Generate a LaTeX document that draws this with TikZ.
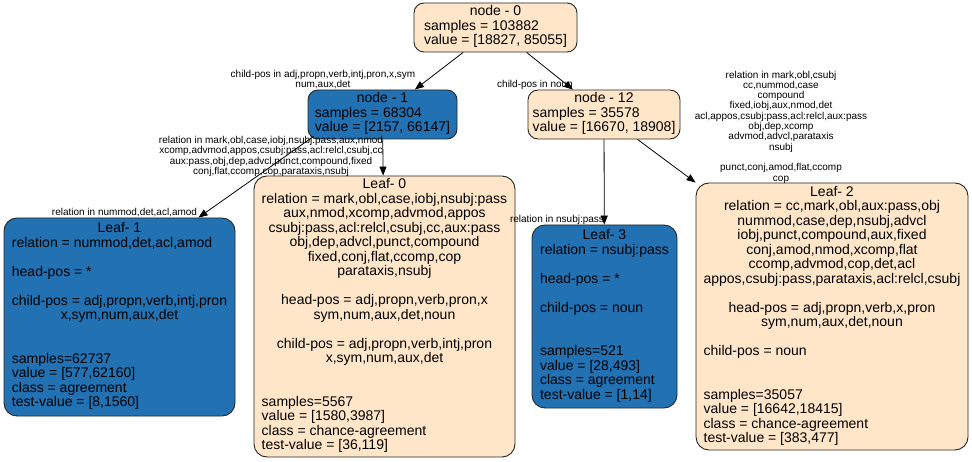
\documentclass[tikz,border=0pt]{standalone}
\usepackage{fontspec}
\setmainfont{Liberation Sans}
\usetikzlibrary{arrows.meta}
\definecolor{leafblue}{RGB}{34,113,179}
\definecolor{leafsand}{RGB}{255,230,201}
\newcommand{\lft}[1]{\multicolumn{1}{@{}l@{}}{#1}}

\begin{document}
\begin{tikzpicture}[
    x=1pt, y=-1pt,
    treebox/.style={draw=black!85, line width=0.9pt, rounded corners=10pt, inner sep=0pt, font=\fontsize{14}{14.5}\selectfont},
    sandbox/.style={treebox, fill=leafsand},
    bluebox/.style={treebox, fill=leafblue},
    cond/.style={inner sep=0pt, align=center, font=\fontsize{10}{10.3}\selectfont},
    flow/.style={-{Triangle[length=9pt, width=7pt]}, line width=0.8pt}
]
\useasboundingbox (0,0) rectangle (972,462);

% split nodes
\node[sandbox, minimum width=163, minimum height=49] (node0) at (495.5,27.5) {\begin{tabular}{@{}c@{}}node - 0\\ \lft{samples = 103882}\\ \lft{value = [18827, 85055]}\end{tabular}};
\node[bluebox, minimum width=149, minimum height=49] (node1) at (382.5,114.5) {\begin{tabular}{@{}c@{}}node - 1\\ \lft{samples = 68304}\\ \lft{value = [2157, 66147]}\end{tabular}};
\node[sandbox, minimum width=152, minimum height=49] (node12) at (604,114.5) {\begin{tabular}{@{}c@{}}node - 12\\ \lft{samples = 35578}\\ \lft{value = [16670, 18908]}\end{tabular}};

% leaves
\node[bluebox, rounded corners=13pt, minimum width=231, minimum height=198] (leaf1) at (119.5,317) {\begin{tabular}{@{}c@{}}
Leaf- 1\\
\lft{relation = nummod,det,acl,amod}\\
\\
\lft{head-pos = *}\\
\\
\lft{child-pos = adj,propn,verb,intj,pron}\\
x,sym,num,aux,det\\
\\
\\
\lft{samples=62737}\\
\lft{value = [577,62160]}\\
\lft{class = agreement}\\
\lft{test-value = [8,1560]}
\end{tabular}};
\node[sandbox, rounded corners=13pt, minimum width=261, minimum height=281] (leaf0) at (384.5,316.5) {\begin{tabular}{@{}c@{}}
Leaf- 0\\
relation = mark,obl,case,iobj,nsubj:pass\\
aux,nmod,xcomp,advmod,appos\\
csubj:pass,acl:relcl,csubj,cc,aux:pass\\
obj,dep,advcl,punct,compound\\
fixed,conj,flat,ccomp,cop\\
parataxis,nsubj\\
\\
head-pos = adj,propn,verb,pron,x\\
sym,num,aux,det,noun\\
\\
child-pos = adj,propn,verb,intj,pron\\
x,sym,num,aux,det\\
\\
\\
\lft{samples=5567}\\
\lft{value = [1580,3987]}\\
\lft{class = chance-agreement}\\
\lft{test-value = [36,119]}
\end{tabular}};
\node[bluebox, rounded corners=13pt, minimum width=145, minimum height=183] (leaf3) at (604.5,316.5) {\begin{tabular}{@{}c@{}}
Leaf- 3\\
\lft{relation = nsubj:pass}\\
\\
\lft{head-pos = *}\\
\\
\lft{child-pos = noun}\\
\\
\\
\lft{samples=521}\\
\lft{value = [28,493]}\\
\lft{class = agreement}\\
\lft{test-value = [1,14]}
\end{tabular}};
\node[sandbox, rounded corners=13pt, minimum width=272, minimum height=267] (leaf2) at (832,316.5) {\begin{tabular}{@{}c@{}}
Leaf- 2\\
relation = cc,mark,obl,aux:pass,obj\\
nummod,case,dep,nsubj,advcl\\
iobj,punct,compound,aux,fixed\\
conj,amod,nmod,xcomp,flat\\
ccomp,advmod,cop,det,acl\\
appos,csubj:pass,parataxis,acl:relcl,csubj\\
\\
head-pos = adj,propn,verb,x,pron\\
sym,num,aux,det,noun\\
\\
\lft{child-pos = noun}\\
\\
\\
\lft{samples=35057}\\
\lft{value = [16642,18415]}\\
\lft{class = chance-agreement}\\
\lft{test-value = [383,477]}
\end{tabular}};

% edge conditions
\node[cond] (cpos1) at (323,79.5) {child-pos in adj,propn,verb,intj,pron,x,sym\\num,aux,det};
\node[cond] (cpos12) at (535,85) {child-pos in noun};
\node[cond] (rel0) at (271,156.5) {relation in mark,obl,case,iobj,nsubj:pass,aux,nmod\\xcomp,advmod,appos,csubj:pass,acl:relcl,csubj,cc\\aux:pass,obj,dep,advcl,punct,compound,fixed\\conj,flat,ccomp,cop,parataxis,nsubj};
\node[cond] (rel1) at (124.5,213) {relation in nummod,det,acl,amod};
\node[cond] (rel3) at (557,220) {relation in nsubj:pass};
\node[cond] (rel2) at (781,127) {relation in mark,obl,csubj\\cc,nummod,case\\compound\\fixed,iobj,aux,nmod,det\\acl,appos,csubj:pass,acl:relcl,aux:pass\\obj,dep,xcomp\\advmod,advcl,parataxis\\nsubj\\[10.3pt]punct,conj,amod,flat,ccomp\\cop};

\draw[flow] (node0) -- (node1);
\draw[flow] (node0) -- (node12);
\draw[flow] ([shift={(6,-3)}]node1.south west) -- ([xshift=79]leaf1.north);
\draw[flow] (node1) -- (leaf0);
\draw[flow] (node12) -- (leaf3);
\draw[flow] (node12) -- (leaf2.north west);
\end{tikzpicture}
\end{document}
